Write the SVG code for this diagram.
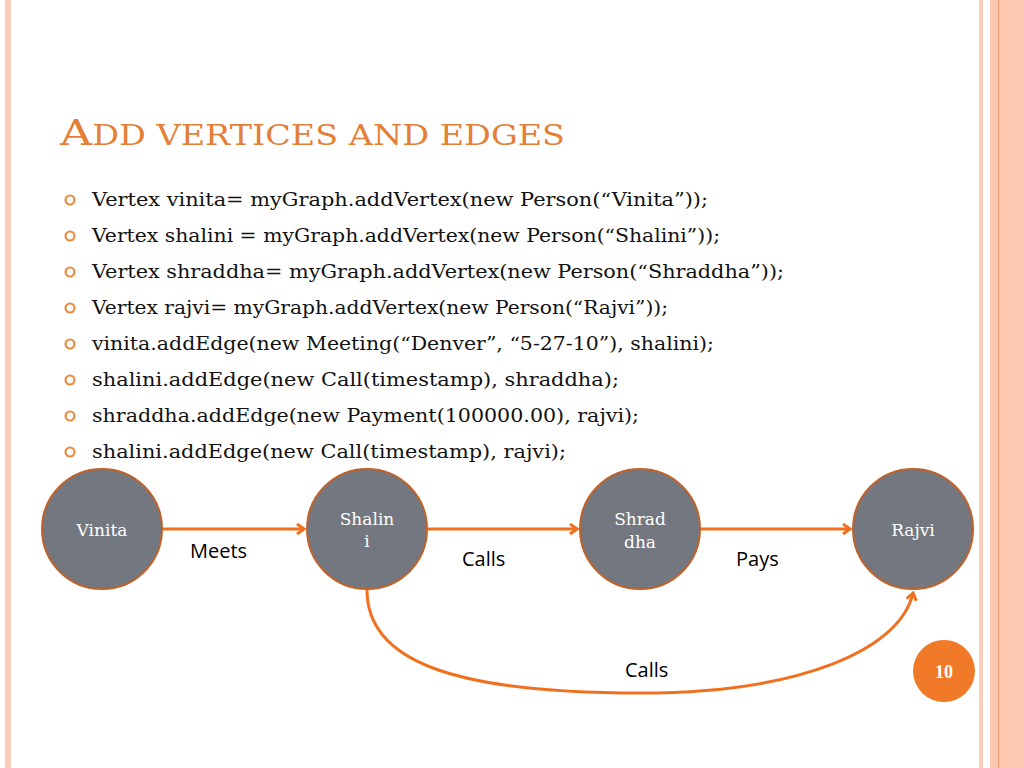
<svg xmlns="http://www.w3.org/2000/svg" width="1024" height="768" viewBox="0 0 1024 768">
<style>
.b{font-family:"DejaVu Serif","Liberation Serif",serif;font-size:18px;fill:#111}
.bul{fill:none;stroke:#E98A3C;stroke-width:2.2}
.n{fill:#737780;stroke:#C0622A;stroke-width:2}
.nt{font-family:"DejaVu Serif","Liberation Serif",serif;font-size:17px;fill:#fff;text-anchor:middle}
.e{fill:none;stroke:#F07020;stroke-width:3}
.l{font-family:"Open Sans","Liberation Sans",sans-serif;font-size:20px;fill:#000}
</style>
<defs><marker id="a" markerWidth="10" markerHeight="12" refX="8" refY="6" orient="auto" markerUnits="userSpaceOnUse"><path d="M1,1 L8,6 L1,11" fill="none" stroke="#F07020" stroke-width="3"/></marker></defs>
<rect width="1024" height="768" fill="#fff"/>
<rect x="5" y="0" width="6" height="768" fill="#FCCDB8"/>
<rect x="979" y="0" width="4" height="768" fill="#FCCDB8"/>
<rect x="990" y="0" width="34" height="768" fill="#FCC8B0"/>
<rect x="998" y="0" width="1" height="768" fill="#EE9A70"/>
<text x="60" y="145" font-family="DejaVu Serif,Liberation Serif,serif" fill="#E47F36" textLength="505" lengthAdjust="spacingAndGlyphs"><tspan font-size="36">A</tspan><tspan font-size="27">DD VERTICES AND EDGES</tspan></text>
<g>
<circle class="bul" cx="70" cy="200" r="4.5"/><text class="b" x="92" y="206" textLength="616" lengthAdjust="spacingAndGlyphs">Vertex vinita= myGraph.addVertex(new Person(“Vinita”));</text>
<circle class="bul" cx="70" cy="236" r="4.5"/><text class="b" x="92" y="242" textLength="628" lengthAdjust="spacingAndGlyphs">Vertex shalini = myGraph.addVertex(new Person(“Shalini”));</text>
<circle class="bul" cx="70" cy="272" r="4.5"/><text class="b" x="92" y="278" textLength="692" lengthAdjust="spacingAndGlyphs">Vertex shraddha= myGraph.addVertex(new Person(“Shraddha”));</text>
<circle class="bul" cx="70" cy="308" r="4.5"/><text class="b" x="92" y="314" textLength="576" lengthAdjust="spacingAndGlyphs">Vertex rajvi= myGraph.addVertex(new Person(“Rajvi”));</text>
<circle class="bul" cx="70" cy="344" r="4.5"/><text class="b" x="92" y="350" textLength="622" lengthAdjust="spacingAndGlyphs">vinita.addEdge(new Meeting(“Denver”, “5-27-10”), shalini);</text>
<circle class="bul" cx="70" cy="380" r="4.5"/><text class="b" x="92" y="386" textLength="527" lengthAdjust="spacingAndGlyphs">shalini.addEdge(new Call(timestamp), shraddha);</text>
<circle class="bul" cx="70" cy="416" r="4.5"/><text class="b" x="92" y="422" textLength="547" lengthAdjust="spacingAndGlyphs">shraddha.addEdge(new Payment(100000.00), rajvi);</text>
<circle class="bul" cx="70" cy="452" r="4.5"/><text class="b" x="92" y="458" textLength="474" lengthAdjust="spacingAndGlyphs">shalini.addEdge(new Call(timestamp), rajvi);</text>
</g>
<g id="edges">
<line class="e" x1="163" y1="529" x2="304" y2="529" marker-end="url(#a)"/>
<line class="e" x1="428" y1="529" x2="577" y2="529" marker-end="url(#a)"/>
<line class="e" x1="701" y1="529" x2="850" y2="529" marker-end="url(#a)"/>
<path class="e" d="M367,590 C367,660 450,693 640,693 C800,693 900,650 913,593" marker-end="url(#a)"/>
<text class="l" x="190" y="558">Meets</text>
<text class="l" x="462" y="566">Calls</text>
<text class="l" x="736" y="566">Pays</text>
<text class="l" x="625" y="677">Calls</text>
</g>
<g id="vinita"><circle class="n" cx="102" cy="529" r="60"/><text class="nt" x="102" y="536">Vinita</text></g>
<g id="shalini"><circle class="n" cx="367" cy="529" r="60"/><text class="nt" x="367" y="525">Shalin</text><text class="nt" x="367" y="547">i</text></g>
<g id="shraddha"><circle class="n" cx="640" cy="529" r="60"/><text class="nt" x="640" y="525">Shrad</text><text class="nt" x="640" y="548">dha</text></g>
<g id="rajvi"><circle class="n" cx="913" cy="529" r="60"/><text class="nt" x="913" y="536">Rajvi</text></g>
<g id="page"><circle cx="944" cy="671" r="31" fill="#F07A28"/><text x="944" y="678" font-family="Liberation Serif,serif" font-weight="bold" font-size="18" fill="#fff" text-anchor="middle">10</text></g>
</svg>
